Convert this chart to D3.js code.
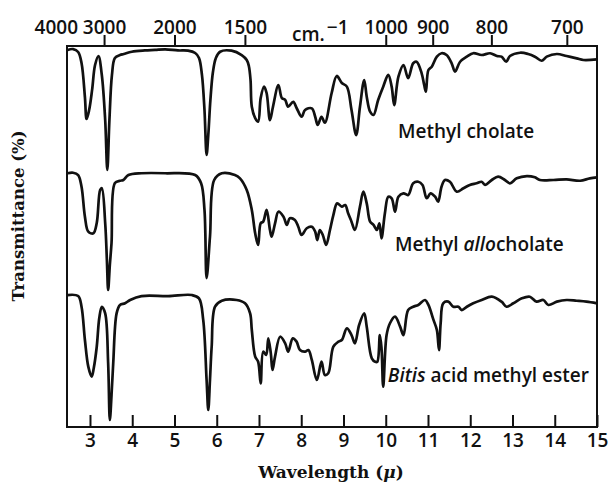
<!DOCTYPE html>
<html>
<head>
<meta charset="utf-8">
<script src="https://cdn.jsdelivr.net/npm/d3@7"></script>
<style>
  body { margin: 0; background: #fff; }
  svg text { fill: #111; }
</style>
</head>
<body>
<svg id="chart" width="608" height="484"></svg>
<script>
// wavelength (micron) ticks along the bottom, wavenumber (cm-1) along the top
var wavelengthTicks = [3, 4, 5, 6, 7, 8, 9, 10, 11, 12, 13, 14, 15];
var wavenumberTicks = [4000, 3000, 2000, 1500, 1000, 900, 800, 700];

var names = ['Methyl cholate', 'Methyl allocholate', 'Bitis acid methyl ester'];
var offsets = [200, 100, 0];

// [wavelength, transmittance]
var cholate = [
  [2.47, 96.9], [2.60, 97.6], [2.72, 95.3], [2.80, 86.6], [2.88, 59.8], [2.92, 42.5],
  [2.98, 49.6], [3.05, 65.4], [3.12, 85.0], [3.20, 92.1], [3.28, 77.2], [3.36, 41.7],
  [3.41, 2.4], [3.46, 41.7], [3.52, 77.2], [3.59, 90.6], [3.71, 92.9], [3.80, 93.7],
  [3.99, 95.5], [4.30, 96.5], [4.54, 96.9], [4.78, 97.4], [5.08, 96.5], [5.32, 96.3],
  [5.49, 94.5], [5.58, 90.6], [5.65, 77.2], [5.71, 49.6], [5.76, 14.2], [5.80, 29.9],
  [5.85, 57.5], [5.91, 79.5], [5.98, 90.6], [6.08, 95.5], [6.35, 96.3], [6.59, 92.9],
  [6.71, 89.0], [6.76, 84.3], [6.80, 73.2], [6.83, 52.2], [6.91, 43.3], [6.98, 40.4],
  [7.04, 59.1], [7.12, 68.0], [7.18, 63.0], [7.26, 41.7], [7.33, 52.0], [7.46, 69.3],
  [7.54, 59.1], [7.62, 57.5], [7.69, 52.2], [7.81, 56.1], [7.89, 51.2], [8.01, 44.3],
  [8.09, 49.6], [8.25, 50.9], [8.33, 44.3], [8.39, 37.8], [8.48, 44.3], [8.56, 39.6],
  [8.72, 63.0], [8.84, 76.4], [8.96, 70.9], [9.08, 68.0], [9.19, 49.6], [9.30, 29.9],
  [9.39, 52.2], [9.49, 73.2], [9.55, 60.1], [9.63, 48.3], [9.71, 45.7], [9.82, 57.5],
  [9.94, 68.0], [10.06, 77.2], [10.14, 68.0], [10.20, 53.5], [10.30, 75.8], [10.42, 85.0],
  [10.53, 74.6], [10.65, 86.4], [10.73, 87.6], [10.85, 78.5], [10.91, 69.3], [10.95, 64.0],
  [11.01, 81.1], [11.09, 83.7], [11.21, 91.6], [11.32, 94.3], [11.44, 92.9], [11.56, 86.4],
  [11.64, 79.8], [11.76, 87.6], [11.92, 91.6], [12.07, 94.3], [12.27, 92.9], [12.47, 94.3],
  [12.63, 92.1], [12.74, 91.6], [12.85, 87.6], [12.94, 92.1], [13.18, 94.7], [13.37, 93.7],
  [13.53, 91.6], [13.69, 88.4], [13.81, 91.6], [14.05, 93.7], [14.28, 92.1], [14.52, 90.3],
  [14.68, 89.0], [15.00, 89.5]
];

var allocholate = [
  [2.47, 99.8], [2.60, 100.2], [2.72, 98.4], [2.80, 89.2], [2.88, 65.6], [2.96, 53.8],
  [3.08, 52.5], [3.16, 60.6], [3.24, 86.6], [3.28, 88.0], [3.36, 60.6], [3.40, 31.5],
  [3.43, 7.9], [3.47, 27.6], [3.51, 44.9], [3.59, 92.1], [3.71, 93.9], [3.79, 94.5],
  [3.91, 98.4], [4.22, 99.8], [4.78, 99.8], [5.49, 98.4], [5.63, 91.9], [5.71, 70.9],
  [5.76, 17.3], [5.84, 49.8], [5.94, 94.5], [6.12, 99.8], [6.43, 98.4], [6.55, 95.8],
  [6.71, 86.6], [6.83, 70.9], [6.91, 52.5], [6.98, 43.3], [7.04, 60.4], [7.10, 61.7],
  [7.18, 70.9], [7.26, 55.1], [7.30, 49.8], [7.38, 60.4], [7.46, 69.5], [7.58, 65.6],
  [7.66, 59.1], [7.73, 64.3], [7.85, 63.0], [7.93, 57.7], [8.01, 51.2], [8.13, 56.5],
  [8.25, 57.7], [8.33, 53.8], [8.38, 47.2], [8.44, 55.1], [8.51, 51.2], [8.59, 43.3],
  [8.68, 55.1], [8.76, 66.9], [8.85, 76.1], [8.96, 73.5], [9.04, 74.8], [9.11, 68.3],
  [9.19, 61.7], [9.27, 55.1], [9.39, 73.5], [9.47, 85.3], [9.55, 76.1], [9.63, 61.7],
  [9.71, 59.1], [9.79, 55.1], [9.85, 60.4], [9.90, 48.6], [9.98, 68.3], [10.06, 81.3],
  [10.14, 80.1], [10.22, 69.5], [10.30, 81.3], [10.42, 84.0], [10.53, 82.7], [10.65, 91.9],
  [10.77, 93.1], [10.87, 90.6], [10.97, 80.1], [11.06, 84.0], [11.17, 81.3], [11.24, 77.4],
  [11.32, 89.2], [11.40, 94.5], [11.52, 93.1], [11.68, 85.3], [11.84, 88.0], [11.99, 90.6],
  [12.15, 91.9], [12.27, 93.1], [12.35, 90.6], [12.51, 94.5], [12.66, 97.1], [12.82, 94.5],
  [12.94, 91.9], [13.10, 95.8], [13.34, 97.6], [13.53, 96.6], [13.65, 94.5], [13.97, 94.5],
  [14.28, 95.0], [14.60, 93.9], [14.83, 95.8], [15.00, 96.6]
];

var bitis = [
  [2.47, 103.9], [2.72, 103.1], [2.80, 94.7], [2.88, 68.5], [2.96, 47.5], [3.04, 39.6],
  [3.09, 46.5], [3.16, 63.2], [3.22, 85.8], [3.28, 94.7], [3.36, 89.5], [3.43, 50.2],
  [3.47, 5.5], [3.51, 25.2], [3.55, 50.2], [3.63, 89.5], [3.71, 96.1], [3.83, 97.4],
  [3.95, 100.0], [4.22, 103.1], [4.85, 103.1], [5.41, 103.9], [5.58, 101.3], [5.68, 84.3],
  [5.76, 37.0], [5.80, 13.4], [5.84, 37.0], [5.88, 63.2], [5.96, 94.7], [6.12, 99.4],
  [6.47, 100.0], [6.67, 97.4], [6.79, 89.5], [6.83, 76.4], [6.91, 55.4], [6.98, 51.4],
  [7.04, 34.4], [7.10, 59.3], [7.17, 56.7], [7.22, 69.8], [7.28, 58.0], [7.32, 44.9],
  [7.38, 55.4], [7.50, 71.1], [7.62, 65.9], [7.69, 59.3], [7.80, 69.8], [7.89, 67.2],
  [7.97, 60.6], [8.09, 59.3], [8.17, 60.6], [8.25, 52.8], [8.37, 37.0], [8.48, 51.4],
  [8.56, 40.9], [8.64, 42.3], [8.76, 63.2], [8.88, 67.2], [8.96, 68.5], [9.08, 77.7],
  [9.19, 72.4], [9.27, 65.9], [9.37, 80.3], [9.49, 89.5], [9.55, 79.0], [9.67, 54.1],
  [9.75, 51.4], [9.80, 51.4], [9.86, 72.4], [9.90, 62.0], [9.94, 31.7], [10.02, 72.4],
  [10.10, 81.7], [10.22, 86.9], [10.34, 79.0], [10.42, 72.4], [10.53, 92.1], [10.65, 94.7],
  [10.77, 96.1], [10.93, 100.0], [11.01, 96.1], [11.13, 84.3], [11.21, 76.4], [11.26, 60.6],
  [11.30, 81.7], [11.36, 97.4], [11.48, 98.7], [11.60, 94.7], [11.72, 94.7], [11.80, 92.1],
  [11.92, 94.7], [12.07, 97.4], [12.27, 100.0], [12.51, 102.6], [12.74, 98.7], [12.86, 94.7],
  [13.02, 97.4], [13.22, 101.3], [13.41, 102.6], [13.57, 98.7], [13.73, 100.0], [13.85, 96.1],
  [14.05, 98.7], [14.28, 100.0], [14.52, 99.4], [14.75, 98.7], [15.00, 97.4]
];

var spectra = [cholate, allocholate, bitis];

(function () {
    var svg = d3.select('#chart');
    var plotLeft = 67, plotRight = 597, plotTop = 46, plotBottom = 427;

    var x = d3.scaleLinear().domain([2.456, 15]).range([plotLeft, plotRight]);
    var y = d3.scaleLinear().domain([0, 300]).range([plotBottom, plotTop]);

    var labelFont = '"Open Sans", "DejaVu Sans", sans-serif';
    var titleFont = '"DejaVu Serif", "Liberation Serif", serif';

    // bottom axis, ticks point into the plot
    var xAxis = d3.axisBottom(x)
        .tickValues(wavelengthTicks)
        .tickFormat(d3.format('d'))
        .tickSizeInner(-12)
        .tickSizeOuter(0)
        .tickPadding(7);

    var gx = svg.append('g')
        .attr('transform', 'translate(0,' + plotBottom + ')')
        .call(xAxis);
    gx.select('.domain').remove();
    gx.selectAll('line').attr('stroke', '#111').attr('stroke-width', 2);
    gx.selectAll('text')
        .attr('font-family', labelFont)
        .attr('font-size', 19)
        .attr('font-weight', 600)
        .attr('fill', '#111');

    // top axis in wavenumbers, placed on the wavelength scale
    var topAxis = d3.axisTop(x)
        .tickValues(wavenumberTicks.map(function (n) { return 10000 / n; }))
        .tickFormat(function (d) { return Math.round(10000 / d); })
        .tickSizeInner(11)
        .tickSizeOuter(0)
        .tickPadding(1);

    var gt = svg.append('g')
        .attr('transform', 'translate(0,' + plotTop + ')')
        .call(topAxis);
    gt.select('.domain').remove();
    gt.selectAll('line').attr('stroke', '#111').attr('stroke-width', 2);
    gt.selectAll('text')
        .attr('font-family', labelFont)
        .attr('font-size', 19)
        .attr('font-weight', 600)
        .attr('fill', '#111');
    // 4000 sits on the frame corner: no tick, label pushed left
    gt.selectAll('.tick').filter(function (d) { return d === 2.5; })
        .call(function (t) {
            t.select('line').remove();
            t.select('text').attr('dx', -13);
        });

    var cm = svg.append('text')
        .attr('x', 292)
        .attr('y', 41)
        .attr('font-family', labelFont)
        .attr('font-size', 19)
        .attr('font-weight', 600);
    cm.append('tspan').text('cm.');
    cm.append('tspan').attr('dy', -7).attr('dx', 2).text('\u22121');

    // frame
    svg.append('rect')
        .attr('x', plotLeft)
        .attr('y', plotTop)
        .attr('width', plotRight - plotLeft)
        .attr('height', plotBottom - plotTop)
        .attr('fill', 'none')
        .attr('stroke', '#111')
        .attr('stroke-width', 2);

    // traces
    spectra.forEach(function (data, i) {
        var line = d3.line()
            .x(function (d) { return x(d[0]); })
            .y(function (d) { return y(d[1] + offsets[i]); })
            .curve(d3.curveCatmullRom.alpha(0.5));

        svg.append('path')
            .datum(data)
            .attr('d', line)
            .attr('fill', 'none')
            .attr('stroke', '#111')
            .attr('stroke-width', 2.7)
            .attr('stroke-linejoin', 'round');
    });

    // trace names
    var nameSpots = [[10.29, 227.6], [10.22, 138.6], [10.05, 35.4]];

    svg.append('text')
        .attr('x', x(nameSpots[0][0])).attr('y', y(nameSpots[0][1]))
        .attr('font-family', labelFont).attr('font-size', 19).attr('font-weight', 600)
        .text(names[0]);

    var n1 = svg.append('text')
        .attr('x', x(nameSpots[1][0])).attr('y', y(nameSpots[1][1]))
        .attr('font-family', labelFont).attr('font-size', 19).attr('font-weight', 600);
    n1.append('tspan').text('Methyl ');
    n1.append('tspan').attr('font-style', 'italic').text('allo');
    n1.append('tspan').text('cholate');

    var n2 = svg.append('text')
        .attr('x', x(nameSpots[2][0])).attr('y', y(nameSpots[2][1]))
        .attr('font-family', labelFont).attr('font-size', 19).attr('font-weight', 600);
    n2.append('tspan').attr('font-style', 'italic').text('Bitis');
    n2.append('tspan').text(' acid methyl ester');

    // axis titles
    var xt = svg.append('text')
        .attr('x', 331)
        .attr('y', 478)
        .attr('text-anchor', 'middle')
        .attr('font-family', titleFont)
        .attr('font-size', 17)
        .attr('font-weight', 'bold');
    xt.append('tspan').text('Wavelength (');
    xt.append('tspan').attr('font-style', 'italic').text('\u03bc');
    xt.append('tspan').text(')');

    svg.append('text')
        .attr('transform', 'translate(24,216) rotate(-90)')
        .attr('text-anchor', 'middle')
        .attr('font-family', titleFont)
        .attr('font-size', 16.5)
        .attr('font-weight', 'bold')
        .text('Transmittance (%)');
})();
</script>
</body>
</html>
